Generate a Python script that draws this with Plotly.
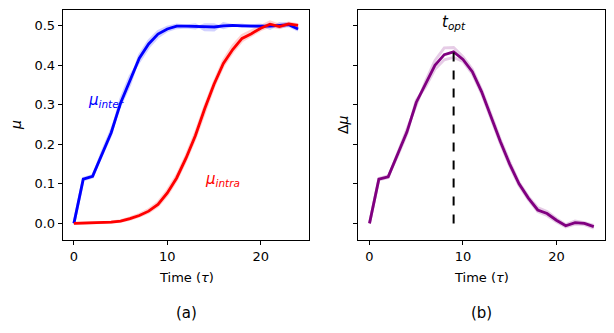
import numpy as np
import plotly.graph_objects as go

# Time axis (units of tau)
time = list(range(25))

# Inter-cluster overlap: mean curve and two individual runs
mu_inter = [0.000, 0.112, 0.119, 0.177, 0.230, 0.305, 0.362, 0.418, 0.454, 0.479, 0.492, 0.499, 0.499,
            0.498, 0.497, 0.497, 0.500, 0.501, 0.500, 0.499, 0.499, 0.499, 0.501, 0.503, 0.492]
mu_inter_run1 = [0.000, 0.110, 0.117, 0.180, 0.236, 0.300, 0.352, 0.425, 0.462, 0.486, 0.497, 0.502, 0.500,
                 0.503, 0.490, 0.489, 0.506, 0.501, 0.499, 0.500, 0.502, 0.493, 0.506, 0.505, 0.496]
mu_inter_run2 = [0.000, 0.114, 0.121, 0.174, 0.226, 0.314, 0.372, 0.410, 0.446, 0.472, 0.488, 0.495, 0.497,
                 0.494, 0.503, 0.503, 0.495, 0.501, 0.502, 0.498, 0.497, 0.504, 0.497, 0.500, 0.489]

# Intra-cluster overlap: mean curve and two individual runs
mu_intra = [0.000, 0.0005, 0.001, 0.002, 0.003, 0.006, 0.012, 0.020, 0.031, 0.048, 0.077, 0.115, 0.165,
            0.222, 0.290, 0.352, 0.405, 0.440, 0.468, 0.480, 0.494, 0.504, 0.498, 0.505, 0.501]
mu_intra_run1 = [0.000, 0.0005, 0.001, 0.002, 0.004, 0.007, 0.014, 0.023, 0.035, 0.053, 0.083, 0.121, 0.171,
                 0.229, 0.296, 0.357, 0.412, 0.449, 0.476, 0.487, 0.500, 0.510, 0.502, 0.507, 0.503]
mu_intra_run2 = [0.000, 0.0005, 0.001, 0.002, 0.003, 0.005, 0.010, 0.018, 0.028, 0.044, 0.072, 0.110, 0.160,
                 0.216, 0.284, 0.347, 0.399, 0.434, 0.462, 0.476, 0.490, 0.499, 0.495, 0.503, 0.498]

# Difference between the two overlaps
delta_mu = [0.000, 0.112, 0.118, 0.173, 0.231, 0.306, 0.352, 0.400, 0.427, 0.434, 0.415, 0.384, 0.333,
            0.270, 0.207, 0.150, 0.100, 0.064, 0.034, 0.025, 0.008, -0.006, 0.002, 0.000, -0.008]
delta_mu_run1 = [0.000, 0.110, 0.116, 0.176, 0.235, 0.300, 0.360, 0.412, 0.444, 0.445, 0.422, 0.390, 0.338,
                 0.276, 0.213, 0.156, 0.104, 0.068, 0.040, 0.030, 0.012, -0.003, 0.006, 0.002, -0.005]
delta_mu_run2 = [0.000, 0.114, 0.120, 0.170, 0.226, 0.312, 0.345, 0.390, 0.414, 0.420, 0.410, 0.378, 0.328,
                 0.265, 0.202, 0.145, 0.096, 0.060, 0.030, 0.020, 0.004, -0.009, -0.002, -0.003, -0.012]

y_ticks = [0.0, 0.1, 0.2, 0.3, 0.4, 0.5]
x_ticks = [0, 10, 20]

i_opt = int(np.argmax(delta_mu))
t_opt = time[i_opt]
delta_max = delta_mu[i_opt]

FONT = "DejaVu Sans"
LW = 2.8
fig = go.Figure()

def line(x, y, color, width, xa="x", ya="y", dash=None):
    fig.add_trace(go.Scatter(x=x, y=y, mode="lines", xaxis=xa, yaxis=ya,
                             line=dict(color=color, width=width, dash=dash),
                             showlegend=False, hoverinfo="skip"))

# Panel (a)
for run in (mu_inter_run1, mu_inter_run2):
    line(time, run, "rgba(0,0,255,0.18)", LW)
for run in (mu_intra_run1, mu_intra_run2):
    line(time, run, "rgba(255,0,0,0.18)", LW)
line(time, mu_inter, "rgb(0,0,255)", LW)
line(time, mu_intra, "rgb(255,0,0)", LW)

# Panel (b)
for run in (delta_mu_run1, delta_mu_run2):
    line(time, run, "rgba(128,0,128,0.2)", LW, "x2", "y2")
line(time, delta_mu, "rgb(128,0,128)", LW, "x2", "y2")
line([t_opt, t_opt], [0, delta_max], "black", 2, "x2", "y2", dash="dash")

axis_common = dict(showline=True, linecolor="black", linewidth=1, mirror=True,
                   ticks="outside", ticklen=4, tickwidth=1, tickcolor="black",
                   showgrid=False, zeroline=False,
                   tickfont=dict(family=FONT, size=13, color="black"))

fig.update_layout(
    width=614, height=333,
    margin=dict(l=0, r=0, t=0, b=0),
    paper_bgcolor="white", plot_bgcolor="white",
    xaxis=dict(domain=[62.7 / 614, 309.3 / 614], range=[-1.2, 25.2], tickvals=x_ticks,
               anchor="y", **axis_common),
    yaxis=dict(domain=[1 - 240 / 333, 1 - 10 / 333], range=[-0.042, 0.540], tickvals=y_ticks,
               tickformat=".1f", anchor="x", **axis_common),
    xaxis2=dict(domain=[358.3 / 614, 605 / 614], range=[-1.2, 25.2], tickvals=x_ticks,
                anchor="y2", **axis_common),
    yaxis2=dict(domain=[1 - 240 / 333, 1 - 10 / 333], range=[-0.042, 0.540], tickvals=y_ticks,
                showticklabels=False, anchor="x2", **axis_common),
)

def note(text, x, y, xref="paper", yref="paper", size=13, color="black",
         xanchor="center", yanchor="middle", angle=0):
    fig.add_annotation(text=text, x=x, y=y, xref=xref, yref=yref, showarrow=False,
                       font=dict(family=FONT, size=size, color=color),
                       xanchor=xanchor, yanchor=yanchor, textangle=angle)

# Curve labels
note("<i>μ</i><sub><i>inter</i></sub>", 1.3, 0.312, "x", "y", 15, "blue", xanchor="left")
note("<i>μ</i><sub><i>intra</i></sub>", 13.8, 0.111, "x", "y", 15, "red", xanchor="left")
note("<i>t</i><sub><i>opt</i></sub>", t_opt, 0.509, "x2", "y2", 15, "black")

# Axis titles and panel tags
note("Time (<i>τ</i>)", 186 / 614, 1 - 277 / 333)
note("Time (<i>τ</i>)", 481.5 / 614, 1 - 277 / 333)
note("<i>μ</i>", 16 / 614, 1 - 125 / 333, size=14, angle=-90)
note("Δ<i>μ</i>", 343 / 614, 1 - 125 / 333, size=14, angle=-90)
note("(a)", 186 / 614, 1 - 313 / 333, size=15)
note("(b)", 481.5 / 614, 1 - 313 / 333, size=15)

fig.write_html("out.html")
